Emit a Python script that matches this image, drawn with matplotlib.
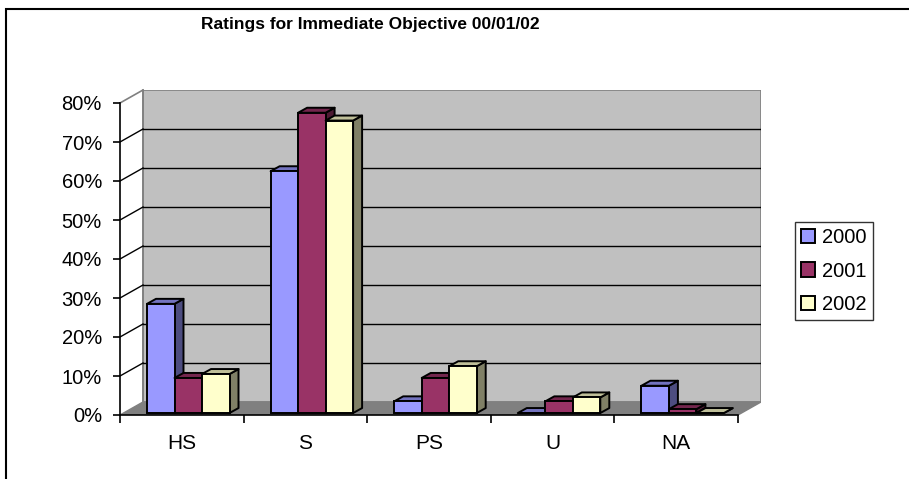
import numpy as np
import matplotlib
matplotlib.use('Agg')
import matplotlib.pyplot as plt
from matplotlib.patches import Polygon, Rectangle
from matplotlib.ticker import FixedLocator, NullFormatter

plt.rcParams['font.family'] = ['Liberation Sans', 'DejaVu Sans']

categories = ['HS', 'S', 'PS', 'U', 'NA']
years = ['2000', '2001', '2002']
vals_2000 = [28, 62, 3, 0, 7]
vals_2001 = [9, 77, 9, 3, 1]
vals_2002 = [10, 75, 12, 4, 0]
y_ticks = [0, 10, 20, 30, 40, 50, 60, 70, 80]
title = 'Ratings for Immediate Objective 00/01/02'

front_cols = ['#9999FF', '#993366', '#FFFFCC']

W, H = 909, 479
fig = plt.figure(figsize=(W / 100, H / 100), dpi=100)

# pixel layout of the front of the plot (Excel-like oblique 3D)
px_x0, px_x1 = 120, 738     # category axis span
px_y0, px_y80 = 415, 103    # 0% and 80%
wall_dx_px, wall_dy_px = 23, 13
sx = (px_x1 - px_x0) / len(categories)
sy = (px_y0 - px_y80) / 80.0
DX = wall_dx_px / sx
DY = wall_dy_px / sy

ax = fig.add_axes([px_x0 / W, (H - px_y0) / H,
                   (px_x1 - px_x0 + wall_dx_px) / W,
                   (px_y0 - px_y80 + wall_dy_px) / H])
ncat = len(categories)
ax.set_xlim(0, ncat + DX)
ax.set_ylim(0, 80 + DY)
ax.patch.set_visible(False)

grey = '#808080'
# back wall and floor
ax.add_patch(Polygon([(DX, DY), (ncat + DX, DY), (ncat + DX, 80 + DY), (DX, 80 + DY)],
                     closed=True, fc='#C0C0C0', ec=grey, lw=1.2, zorder=0))
ax.add_patch(Polygon([(0, 0), (ncat, 0), (ncat + DX, DY), (DX, DY)],
                     closed=True, fc=grey, ec=grey, lw=1.0, zorder=0.5))
ax.plot([0, DX], [80, 80 + DY], color=grey, lw=1.2, zorder=0.6, clip_on=False)
ax.plot([DX, DX], [DY, 80 + DY], color=grey, lw=1.2, zorder=0.6, clip_on=False)

# gridlines on the back wall and left side
for yv in y_ticks[1:-1]:
    ax.plot([DX, ncat + DX], [yv + DY, yv + DY], color='black', lw=1.0, zorder=0.7)
    ax.plot([0, DX], [yv, yv + DY], color='black', lw=1.0, zorder=0.7, clip_on=False)

# bars
bw = 27.5 / sx
g0 = 27.0 / sx
ddx = 9.0 / sx
ddy = 5.0 / sy
base = 0.5
series = [vals_2000, vals_2001, vals_2002]
handles = []
z = 2
for j in range(ncat):
    for i, vals in enumerate(series):
        x = j + g0 + i * bw
        v = vals[j]
        col = np.array(matplotlib.colors.to_rgb(front_cols[i]))
        top = base + v
        bars = ax.bar(x, v, width=bw, bottom=base, align='edge', color=front_cols[i],
                      edgecolor='black', linewidth=1.4, zorder=z + 1, clip_on=False)
        ax.add_patch(Polygon([(x + bw, base), (x + bw + ddx, base + ddy),
                              (x + bw + ddx, top + ddy), (x + bw, top)],
                             closed=True, fc=col * 0.5, ec='black', lw=1.4,
                             joinstyle='round', zorder=z, clip_on=False))
        ax.add_patch(Polygon([(x, top), (x + bw, top), (x + bw + ddx, top + ddy),
                              (x + ddx, top + ddy)],
                             closed=True, fc=col * 0.75, ec='black', lw=1.4,
                             joinstyle='round', zorder=z, clip_on=False))
        if j == 0:
            handles.append(bars[0])
        z += 3

# axes / ticks
for s in ['top', 'right']:
    ax.spines[s].set_visible(False)
ax.spines['left'].set_bounds(0, 80)
ax.spines['bottom'].set_bounds(0, ncat)
ax.spines['left'].set_linewidth(1.2)
ax.spines['bottom'].set_linewidth(1.2)
ax.spines['left'].set_zorder(1)
ax.spines['bottom'].set_zorder(1)

ax.set_yticks(y_ticks)
ax.set_yticklabels(['%d%%' % t for t in y_ticks], fontsize=14.5)
ax.tick_params(axis='y', length=5, width=1.2, pad=8, direction='out')

ax.xaxis.set_major_locator(FixedLocator(np.arange(ncat + 1)))
ax.xaxis.set_major_formatter(NullFormatter())
ax.xaxis.set_minor_locator(FixedLocator(np.arange(ncat) + 0.5))
ax.set_xticklabels(categories, minor=True, fontsize=15)
ax.tick_params(axis='x', which='minor', length=0, pad=14)
ax.tick_params(axis='x', which='major', length=6, width=1.2, direction='out')

fig.text(370 / W, 1 - 24 / H, title, ha='center', va='center',
         fontsize=12.5, fontweight='bold')

leg = fig.legend(handles, years, loc='upper left',
                 bbox_to_anchor=(795 / W, 1 - 222 / H), fontsize=14.5,
                 frameon=True, fancybox=False, edgecolor='black',
                 handlelength=0.7, handleheight=0.7, handletextpad=0.35,
                 labelspacing=0.72, borderpad=0.3, borderaxespad=0)
leg.get_frame().set_linewidth(1.0)

# outer chart border (cut off at the right and bottom)
fig.patches.append(Rectangle((6 / W, -0.1), 2.0, 1.1 - 9 / H, transform=fig.transFigure,
                             fill=False, ec='black', lw=1.5))

fig.savefig('out.png', dpi=100)
